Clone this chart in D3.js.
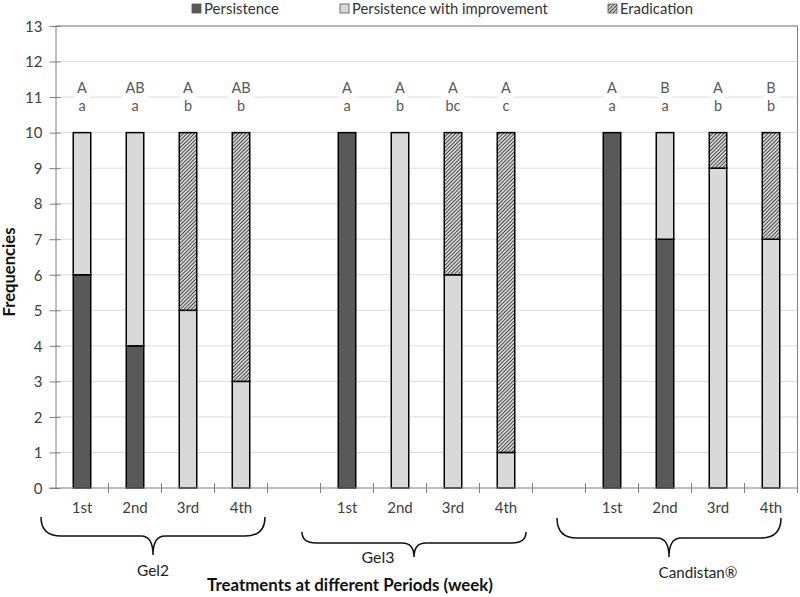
<!DOCTYPE html>
<html><head><meta charset="utf-8">
<script src="https://cdn.jsdelivr.net/npm/d3@7"></script>
<style>body{margin:0;background:#fff}svg{display:block}</style>
</head><body>
<svg id="chart" width="800" height="597"></svg>
<script>
const groups = ["Gel2", "Gel3", "Candistan®"];
const periods = ["1st", "2nd", "3rd", "4th"];
const seriesNames = ["Persistence", "Persistence with improvement", "Eradication"];
const persistence = [6, 4, 0, 0, 10, 0, 0, 0, 10, 7, 0, 0];
const improvement = [4, 6, 5, 3, 0, 10, 6, 1, 0, 3, 9, 7];
const eradication = [0, 0, 5, 7, 0, 0, 4, 9, 0, 0, 1, 3];
const upperLetters = ["A", "AB", "A", "AB", "A", "A", "A", "A", "A", "B", "A", "B"];
const lowerLetters = ["a", "a", "b", "b", "a", "b", "bc", "c", "a", "a", "b", "b"];
const yTicks = [0,1,2,3,4,5,6,7,8,9,10,11,12,13];

const FONT = "Lato, 'Open Sans', sans-serif";
const svg = d3.select("#chart");
const M = {left: 55.5, right: 797.5, top: 26, bottom: 488};

function fit(sel, target) {
  const fs = parseFloat(sel.attr("font-size"));
  const w = sel.node().getComputedTextLength();
  if (w > 0) sel.attr("font-size", fs * target / w);
  return sel;
}

const slots = [];
const rows = [];
groups.forEach((g, gi) => {
  periods.forEach((p, pi) => {
    const i = gi * 4 + pi;
    const id = g + "|" + p;
    slots.push(id);
    rows.push({id, group: g, period: p, P: persistence[i], I: improvement[i], E: eradication[i], up: upperLetters[i], low: lowerLetters[i]});
  });
  if (gi < groups.length - 1) slots.push("gap" + gi);
});

const x = d3.scaleBand().domain(slots).range([M.left, M.right]).paddingInner(0).paddingOuter(0);
const y = d3.scaleLinear().domain([0, 13]).range([M.bottom, M.top]);
const barW = x.bandwidth() * 0.33;

const defs = svg.append("defs");
const pat = defs.append("pattern").attr("id", "hatch").attr("patternUnits", "userSpaceOnUse")
  .attr("width", 2.6).attr("height", 2.6).attr("patternTransform", "rotate(45)");
pat.append("rect").attr("width", 2.6).attr("height", 2.6).attr("fill", "#d4d4d4");
pat.append("line").attr("x1", 0).attr("y1", 0).attr("x2", 0).attr("y2", 2.6).attr("stroke", "#262626").attr("stroke-width", 1.5);

svg.append("g").selectAll("line").data(yTicks.filter(t => t > 0)).join("line")
  .attr("x1", M.left).attr("x2", M.right).attr("y1", d => y(d)).attr("y2", d => y(d))
  .attr("stroke", "#dcdcdc").attr("stroke-width", 1);

svg.append("line").attr("x1", M.left).attr("x2", M.right).attr("y1", y(13)).attr("y2", y(13)).attr("stroke", "#7f7f7f");
svg.append("line").attr("x1", M.right).attr("x2", M.right).attr("y1", y(13)).attr("y2", y(0)).attr("stroke", "#7f7f7f");

const stack = d3.stack().keys(["P", "I", "E"])(rows);
const fills = {P: "#595959", I: "#d9d9d9", E: "url(#hatch)"};
svg.append("g").selectAll("g").data(stack).join("g")
  .attr("fill", d => fills[d.key])
  .selectAll("rect").data(d => d.filter(s => s[1] - s[0] > 0)).join("rect")
  .attr("x", d => x(d.data.id) + (x.bandwidth() - barW) / 2)
  .attr("width", barW)
  .attr("y", d => y(d[1]))
  .attr("height", d => y(d[0]) - y(d[1]))
  .attr("stroke", "#000").attr("stroke-width", 1.5);

const lab = svg.append("g").attr("font-family", FONT).attr("font-size", 14.5).attr("fill", "#595959").attr("text-anchor", "middle");
rows.forEach(r => {
  const cx = x(r.id) + x.bandwidth() / 2;
  const w = Math.max(r.up.length, r.low.length) * 9 + 6;
  lab.append("rect").attr("x", cx - w / 2).attr("y", 79).attr("width", w).attr("height", 36).attr("fill", "#fff");
  lab.append("text").attr("x", cx).attr("y", 93).text(r.up);
  lab.append("text").attr("x", cx).attr("y", 111).text(r.low);
});

const yAxis = svg.append("g").attr("transform", `translate(${M.left},0)`)
  .call(d3.axisLeft(y).tickValues(yTicks).tickSize(6).tickSizeOuter(0));
yAxis.select(".domain").attr("stroke", "#7f7f7f");
yAxis.selectAll(".tick line").attr("stroke", "#7f7f7f").attr("x2", 5).attr("x1", -6);
yAxis.selectAll(".tick text").attr("font-family", FONT).attr("font-size", 15).attr("fill", "#404040").attr("x", -13).attr("dy", "0.35em");

const xAxisG = svg.append("g").attr("transform", `translate(0,${M.bottom})`);
xAxisG.append("line").attr("x1", M.left - 6).attr("x2", M.right).attr("stroke", "#7f7f7f");
const bounds = slots.map(s => x(s)).concat([M.right]);
xAxisG.selectAll(".bt").data(bounds.slice(1)).join("line").attr("class", "bt")
  .attr("x1", d => d).attr("x2", d => d).attr("y1", -5).attr("y2", 5).attr("stroke", "#7f7f7f");
xAxisG.selectAll("text").data(rows).join("text")
  .attr("x", d => x(d.id) + x.bandwidth() / 2).attr("y", 25)
  .attr("text-anchor", "middle").attr("font-family", FONT).attr("font-size", 15).attr("fill", "#404040")
  .text(d => d.period);

function brace(x0, x1, xm, yTop, yLine, yTip, r) {
  return `M${x0},${yTop} Q${x0},${yLine} ${x0 + r},${yLine} L${xm - 12},${yLine} Q${xm},${yLine} ${xm},${yTip}` +
    ` Q${xm},${yLine} ${xm + 12},${yLine} L${x1 - r},${yLine} Q${x1},${yLine} ${x1},${yTop}`;
}
const braceDefs = [
  {g: "Gel2", l: -41, rgt: 24, top: 517, line: 536, tip: 555, r: 20, lx: 0, ly: 576, w: 32},
  {g: "Gel3", l: -45, rgt: 20, top: 532, line: 543, tip: 557, r: 14, lx: -36, ly: 563, w: 33},
  {g: "Candistan®", l: -55, rgt: 10, top: 518, line: 538, tip: 557, r: 20, lx: 29, ly: 578, w: 79}
];
braceDefs.forEach(b => {
  const first = x(b.g + "|1st") + x.bandwidth() / 2;
  const last = x(b.g + "|4th") + x.bandwidth() / 2;
  const x0 = first + b.l, x1 = last + b.rgt, xm = (x0 + x1) / 2;
  svg.append("path").attr("d", brace(x0, x1, xm, b.top, b.line, b.tip, b.r))
    .attr("fill", "none").attr("stroke", "#111").attr("stroke-width", 1.5);
  const t = svg.append("text").attr("x", xm + b.lx).attr("y", b.ly).attr("text-anchor", "middle")
    .attr("font-family", FONT).attr("font-size", 15).attr("fill", "#222").text(b.g);
  fit(t, b.w);
});

fit(svg.append("text").attr("x", 350).attr("y", 591).attr("text-anchor", "middle")
  .attr("font-family", FONT).attr("font-size", 15).attr("font-weight", "bold").attr("fill", "#111")
  .text("Treatments at different Periods (week)"), 286);
fit(svg.append("text").attr("transform", "translate(15,272) rotate(-90)").attr("text-anchor", "middle")
  .attr("font-family", FONT).attr("font-size", 15).attr("font-weight", "bold").attr("fill", "#111")
  .text("Frequencies"), 89);

const legX = [192, 340, 608];
const legW = [75, 196, 73];
const legFill = ["#595959", "#d9d9d9", "url(#hatch)"];
seriesNames.forEach((n, i) => {
  svg.append("rect").attr("x", legX[i]).attr("y", 4).attr("width", 9).attr("height", 9)
    .attr("fill", legFill[i]).attr("stroke", "#555").attr("stroke-width", 0.8);
  fit(svg.append("text").attr("x", legX[i] + 12).attr("y", 14).attr("font-family", FONT).attr("font-size", 14.5)
    .attr("fill", "#333").text(n), legW[i]);
});
</script>
</body></html>
